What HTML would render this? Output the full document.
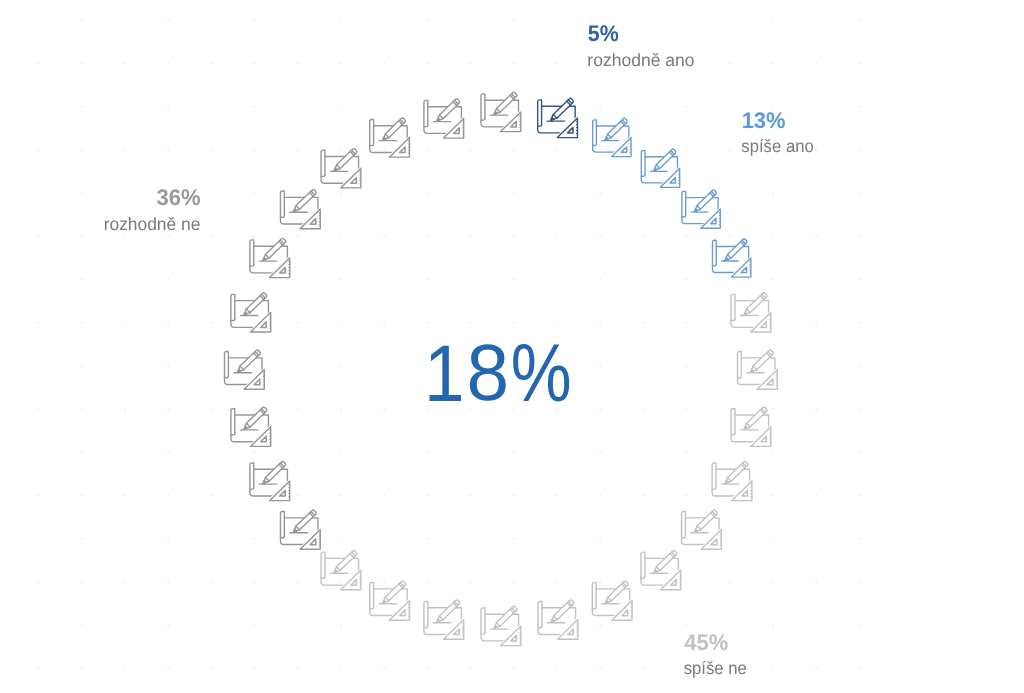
<!DOCTYPE html>
<html><head><meta charset="utf-8"><style>
html,body{margin:0;padding:0;background:#fff;width:1024px;height:693px;overflow:hidden}
svg{position:absolute;left:0;top:0;display:block;will-change:transform}
.c1{color:#34557f} .c2{color:#6a9dcf} .c3{color:#c2c2c2} .c4{color:#969696}
text{font-family:"Liberation Sans",sans-serif;text-rendering:geometricPrecision}
</style></head><body>
<svg width="1024" height="693" viewBox="0 0 1024 693">
<defs><symbol id="ic" overflow="visible">
<g fill="none" stroke="currentColor" stroke-width="1.4" stroke-linejoin="round" stroke-linecap="round">
<path d="M4.4 26.1 V1.5 H2.5 Q0.5 1.5 0.5 3.5 V31.2 Q0.5 34.5 3.8 34.5 H26"/>
<path d="M4.4 26.1 Q4.4 27.7 2.8 27.7 H0.5"/>
<path d="M4.4 7.8 H38 V24"/>
<path d="M10 22.7 H27.3"/>
<g transform="translate(13.5 22.1) rotate(-44.06)">
<path d="M0 0 L6 -2.6 H28.2 Q30.1 -2.6 30.1 -0.8 V0.8 Q30.1 2.6 28.2 2.6 H6 Z" fill="#fff"/>
<path d="M6 -2.6 V2.6 M25 -2.6 V2.6 M27 -2.6 V2.6"/>
<path d="M0 0 L3 -1.2 V1.2 Z" fill="currentColor"/>
</g>
<path d="M20.1 39.2 H40.3 V19.5 Z" stroke="#fff" stroke-width="3.2" fill="#fff"/>
<path d="M20.1 39.2 H40.3 V19.5 Z"/>
<path d="M30.3 34.6 H35.8 V29 Z" stroke-width="1.5"/>
<path d="M38.8 23.2 H40.3 M38.8 26.2 H40.3 M38.8 29.1 H40.3 M38.8 32.1 H40.3 M38.8 35.2 H40.3" stroke-width="1" stroke-linecap="butt"/>
</g>
</symbol></defs>
<g fill="#e6e6e6"><rect x="81.05" y="19.65" width="1.5" height="1.5"/><rect x="167.45" y="19.65" width="1.5" height="1.5"/><rect x="253.85" y="19.65" width="1.5" height="1.5"/><rect x="340.25" y="19.65" width="1.5" height="1.5"/><rect x="426.65" y="19.65" width="1.5" height="1.5"/><rect x="513.05" y="19.65" width="1.5" height="1.5"/><rect x="772.25" y="19.65" width="1.5" height="1.5"/><rect x="858.65" y="19.65" width="1.5" height="1.5"/><rect x="37.85" y="62.85" width="1.5" height="1.5"/><rect x="81.05" y="62.85" width="1.5" height="1.5"/><rect x="124.25" y="62.85" width="1.5" height="1.5"/><rect x="167.45" y="62.85" width="1.5" height="1.5"/><rect x="210.65" y="62.85" width="1.5" height="1.5"/><rect x="253.85" y="62.85" width="1.5" height="1.5"/><rect x="297.05" y="62.85" width="1.5" height="1.5"/><rect x="340.25" y="62.85" width="1.5" height="1.5"/><rect x="383.45" y="62.85" width="1.5" height="1.5"/><rect x="426.65" y="62.85" width="1.5" height="1.5"/><rect x="469.85" y="62.85" width="1.5" height="1.5"/><rect x="513.05" y="62.85" width="1.5" height="1.5"/><rect x="556.25" y="62.85" width="1.5" height="1.5"/><rect x="729.05" y="62.85" width="1.5" height="1.5"/><rect x="772.25" y="62.85" width="1.5" height="1.5"/><rect x="815.45" y="62.85" width="1.5" height="1.5"/><rect x="858.65" y="62.85" width="1.5" height="1.5"/><rect x="81.05" y="106.05" width="1.5" height="1.5"/><rect x="167.45" y="106.05" width="1.5" height="1.5"/><rect x="253.85" y="106.05" width="1.5" height="1.5"/><rect x="340.25" y="106.05" width="1.5" height="1.5"/><rect x="426.65" y="106.05" width="1.5" height="1.5"/><rect x="513.05" y="106.05" width="1.5" height="1.5"/><rect x="599.45" y="106.05" width="1.5" height="1.5"/><rect x="685.85" y="106.05" width="1.5" height="1.5"/><rect x="772.25" y="106.05" width="1.5" height="1.5"/><rect x="858.65" y="106.05" width="1.5" height="1.5"/><rect x="37.85" y="149.25" width="1.5" height="1.5"/><rect x="81.05" y="149.25" width="1.5" height="1.5"/><rect x="124.25" y="149.25" width="1.5" height="1.5"/><rect x="167.45" y="149.25" width="1.5" height="1.5"/><rect x="210.65" y="149.25" width="1.5" height="1.5"/><rect x="253.85" y="149.25" width="1.5" height="1.5"/><rect x="297.05" y="149.25" width="1.5" height="1.5"/><rect x="340.25" y="149.25" width="1.5" height="1.5"/><rect x="383.45" y="149.25" width="1.5" height="1.5"/><rect x="426.65" y="149.25" width="1.5" height="1.5"/><rect x="469.85" y="149.25" width="1.5" height="1.5"/><rect x="513.05" y="149.25" width="1.5" height="1.5"/><rect x="556.25" y="149.25" width="1.5" height="1.5"/><rect x="599.45" y="149.25" width="1.5" height="1.5"/><rect x="642.65" y="149.25" width="1.5" height="1.5"/><rect x="685.85" y="149.25" width="1.5" height="1.5"/><rect x="729.05" y="149.25" width="1.5" height="1.5"/><rect x="815.45" y="149.25" width="1.5" height="1.5"/><rect x="858.65" y="149.25" width="1.5" height="1.5"/><rect x="81.05" y="192.45" width="1.5" height="1.5"/><rect x="253.85" y="192.45" width="1.5" height="1.5"/><rect x="340.25" y="192.45" width="1.5" height="1.5"/><rect x="426.65" y="192.45" width="1.5" height="1.5"/><rect x="513.05" y="192.45" width="1.5" height="1.5"/><rect x="599.45" y="192.45" width="1.5" height="1.5"/><rect x="685.85" y="192.45" width="1.5" height="1.5"/><rect x="772.25" y="192.45" width="1.5" height="1.5"/><rect x="858.65" y="192.45" width="1.5" height="1.5"/><rect x="37.85" y="235.65" width="1.5" height="1.5"/><rect x="81.05" y="235.65" width="1.5" height="1.5"/><rect x="124.25" y="235.65" width="1.5" height="1.5"/><rect x="167.45" y="235.65" width="1.5" height="1.5"/><rect x="210.65" y="235.65" width="1.5" height="1.5"/><rect x="253.85" y="235.65" width="1.5" height="1.5"/><rect x="297.05" y="235.65" width="1.5" height="1.5"/><rect x="340.25" y="235.65" width="1.5" height="1.5"/><rect x="383.45" y="235.65" width="1.5" height="1.5"/><rect x="426.65" y="235.65" width="1.5" height="1.5"/><rect x="469.85" y="235.65" width="1.5" height="1.5"/><rect x="513.05" y="235.65" width="1.5" height="1.5"/><rect x="556.25" y="235.65" width="1.5" height="1.5"/><rect x="599.45" y="235.65" width="1.5" height="1.5"/><rect x="642.65" y="235.65" width="1.5" height="1.5"/><rect x="685.85" y="235.65" width="1.5" height="1.5"/><rect x="729.05" y="235.65" width="1.5" height="1.5"/><rect x="772.25" y="235.65" width="1.5" height="1.5"/><rect x="815.45" y="235.65" width="1.5" height="1.5"/><rect x="858.65" y="235.65" width="1.5" height="1.5"/><rect x="81.05" y="278.85" width="1.5" height="1.5"/><rect x="167.45" y="278.85" width="1.5" height="1.5"/><rect x="253.85" y="278.85" width="1.5" height="1.5"/><rect x="340.25" y="278.85" width="1.5" height="1.5"/><rect x="426.65" y="278.85" width="1.5" height="1.5"/><rect x="513.05" y="278.85" width="1.5" height="1.5"/><rect x="599.45" y="278.85" width="1.5" height="1.5"/><rect x="685.85" y="278.85" width="1.5" height="1.5"/><rect x="772.25" y="278.85" width="1.5" height="1.5"/><rect x="858.65" y="278.85" width="1.5" height="1.5"/><rect x="37.85" y="322.05" width="1.5" height="1.5"/><rect x="81.05" y="322.05" width="1.5" height="1.5"/><rect x="124.25" y="322.05" width="1.5" height="1.5"/><rect x="167.45" y="322.05" width="1.5" height="1.5"/><rect x="210.65" y="322.05" width="1.5" height="1.5"/><rect x="253.85" y="322.05" width="1.5" height="1.5"/><rect x="297.05" y="322.05" width="1.5" height="1.5"/><rect x="340.25" y="322.05" width="1.5" height="1.5"/><rect x="383.45" y="322.05" width="1.5" height="1.5"/><rect x="426.65" y="322.05" width="1.5" height="1.5"/><rect x="469.85" y="322.05" width="1.5" height="1.5"/><rect x="513.05" y="322.05" width="1.5" height="1.5"/><rect x="556.25" y="322.05" width="1.5" height="1.5"/><rect x="599.45" y="322.05" width="1.5" height="1.5"/><rect x="642.65" y="322.05" width="1.5" height="1.5"/><rect x="685.85" y="322.05" width="1.5" height="1.5"/><rect x="729.05" y="322.05" width="1.5" height="1.5"/><rect x="772.25" y="322.05" width="1.5" height="1.5"/><rect x="815.45" y="322.05" width="1.5" height="1.5"/><rect x="858.65" y="322.05" width="1.5" height="1.5"/><rect x="81.05" y="365.25" width="1.5" height="1.5"/><rect x="167.45" y="365.25" width="1.5" height="1.5"/><rect x="253.85" y="365.25" width="1.5" height="1.5"/><rect x="340.25" y="365.25" width="1.5" height="1.5"/><rect x="599.45" y="365.25" width="1.5" height="1.5"/><rect x="685.85" y="365.25" width="1.5" height="1.5"/><rect x="772.25" y="365.25" width="1.5" height="1.5"/><rect x="858.65" y="365.25" width="1.5" height="1.5"/><rect x="37.85" y="408.45" width="1.5" height="1.5"/><rect x="81.05" y="408.45" width="1.5" height="1.5"/><rect x="124.25" y="408.45" width="1.5" height="1.5"/><rect x="167.45" y="408.45" width="1.5" height="1.5"/><rect x="210.65" y="408.45" width="1.5" height="1.5"/><rect x="253.85" y="408.45" width="1.5" height="1.5"/><rect x="297.05" y="408.45" width="1.5" height="1.5"/><rect x="340.25" y="408.45" width="1.5" height="1.5"/><rect x="383.45" y="408.45" width="1.5" height="1.5"/><rect x="426.65" y="408.45" width="1.5" height="1.5"/><rect x="469.85" y="408.45" width="1.5" height="1.5"/><rect x="513.05" y="408.45" width="1.5" height="1.5"/><rect x="556.25" y="408.45" width="1.5" height="1.5"/><rect x="599.45" y="408.45" width="1.5" height="1.5"/><rect x="642.65" y="408.45" width="1.5" height="1.5"/><rect x="685.85" y="408.45" width="1.5" height="1.5"/><rect x="729.05" y="408.45" width="1.5" height="1.5"/><rect x="772.25" y="408.45" width="1.5" height="1.5"/><rect x="815.45" y="408.45" width="1.5" height="1.5"/><rect x="858.65" y="408.45" width="1.5" height="1.5"/><rect x="81.05" y="451.65" width="1.5" height="1.5"/><rect x="167.45" y="451.65" width="1.5" height="1.5"/><rect x="253.85" y="451.65" width="1.5" height="1.5"/><rect x="340.25" y="451.65" width="1.5" height="1.5"/><rect x="426.65" y="451.65" width="1.5" height="1.5"/><rect x="513.05" y="451.65" width="1.5" height="1.5"/><rect x="599.45" y="451.65" width="1.5" height="1.5"/><rect x="685.85" y="451.65" width="1.5" height="1.5"/><rect x="772.25" y="451.65" width="1.5" height="1.5"/><rect x="858.65" y="451.65" width="1.5" height="1.5"/><rect x="37.85" y="494.85" width="1.5" height="1.5"/><rect x="81.05" y="494.85" width="1.5" height="1.5"/><rect x="124.25" y="494.85" width="1.5" height="1.5"/><rect x="167.45" y="494.85" width="1.5" height="1.5"/><rect x="210.65" y="494.85" width="1.5" height="1.5"/><rect x="253.85" y="494.85" width="1.5" height="1.5"/><rect x="297.05" y="494.85" width="1.5" height="1.5"/><rect x="340.25" y="494.85" width="1.5" height="1.5"/><rect x="383.45" y="494.85" width="1.5" height="1.5"/><rect x="426.65" y="494.85" width="1.5" height="1.5"/><rect x="469.85" y="494.85" width="1.5" height="1.5"/><rect x="513.05" y="494.85" width="1.5" height="1.5"/><rect x="556.25" y="494.85" width="1.5" height="1.5"/><rect x="599.45" y="494.85" width="1.5" height="1.5"/><rect x="642.65" y="494.85" width="1.5" height="1.5"/><rect x="685.85" y="494.85" width="1.5" height="1.5"/><rect x="729.05" y="494.85" width="1.5" height="1.5"/><rect x="772.25" y="494.85" width="1.5" height="1.5"/><rect x="815.45" y="494.85" width="1.5" height="1.5"/><rect x="858.65" y="494.85" width="1.5" height="1.5"/><rect x="81.05" y="538.05" width="1.5" height="1.5"/><rect x="167.45" y="538.05" width="1.5" height="1.5"/><rect x="253.85" y="538.05" width="1.5" height="1.5"/><rect x="340.25" y="538.05" width="1.5" height="1.5"/><rect x="426.65" y="538.05" width="1.5" height="1.5"/><rect x="513.05" y="538.05" width="1.5" height="1.5"/><rect x="599.45" y="538.05" width="1.5" height="1.5"/><rect x="685.85" y="538.05" width="1.5" height="1.5"/><rect x="772.25" y="538.05" width="1.5" height="1.5"/><rect x="858.65" y="538.05" width="1.5" height="1.5"/><rect x="37.85" y="581.25" width="1.5" height="1.5"/><rect x="81.05" y="581.25" width="1.5" height="1.5"/><rect x="124.25" y="581.25" width="1.5" height="1.5"/><rect x="167.45" y="581.25" width="1.5" height="1.5"/><rect x="210.65" y="581.25" width="1.5" height="1.5"/><rect x="253.85" y="581.25" width="1.5" height="1.5"/><rect x="297.05" y="581.25" width="1.5" height="1.5"/><rect x="340.25" y="581.25" width="1.5" height="1.5"/><rect x="383.45" y="581.25" width="1.5" height="1.5"/><rect x="426.65" y="581.25" width="1.5" height="1.5"/><rect x="469.85" y="581.25" width="1.5" height="1.5"/><rect x="513.05" y="581.25" width="1.5" height="1.5"/><rect x="556.25" y="581.25" width="1.5" height="1.5"/><rect x="599.45" y="581.25" width="1.5" height="1.5"/><rect x="642.65" y="581.25" width="1.5" height="1.5"/><rect x="685.85" y="581.25" width="1.5" height="1.5"/><rect x="729.05" y="581.25" width="1.5" height="1.5"/><rect x="772.25" y="581.25" width="1.5" height="1.5"/><rect x="815.45" y="581.25" width="1.5" height="1.5"/><rect x="858.65" y="581.25" width="1.5" height="1.5"/><rect x="81.05" y="624.45" width="1.5" height="1.5"/><rect x="167.45" y="624.45" width="1.5" height="1.5"/><rect x="253.85" y="624.45" width="1.5" height="1.5"/><rect x="340.25" y="624.45" width="1.5" height="1.5"/><rect x="426.65" y="624.45" width="1.5" height="1.5"/><rect x="513.05" y="624.45" width="1.5" height="1.5"/><rect x="599.45" y="624.45" width="1.5" height="1.5"/><rect x="685.85" y="624.45" width="1.5" height="1.5"/><rect x="772.25" y="624.45" width="1.5" height="1.5"/><rect x="858.65" y="624.45" width="1.5" height="1.5"/><rect x="37.85" y="667.65" width="1.5" height="1.5"/><rect x="81.05" y="667.65" width="1.5" height="1.5"/><rect x="124.25" y="667.65" width="1.5" height="1.5"/><rect x="167.45" y="667.65" width="1.5" height="1.5"/><rect x="210.65" y="667.65" width="1.5" height="1.5"/><rect x="253.85" y="667.65" width="1.5" height="1.5"/><rect x="297.05" y="667.65" width="1.5" height="1.5"/><rect x="340.25" y="667.65" width="1.5" height="1.5"/><rect x="383.45" y="667.65" width="1.5" height="1.5"/><rect x="426.65" y="667.65" width="1.5" height="1.5"/><rect x="469.85" y="667.65" width="1.5" height="1.5"/><rect x="513.05" y="667.65" width="1.5" height="1.5"/><rect x="556.25" y="667.65" width="1.5" height="1.5"/><rect x="599.45" y="667.65" width="1.5" height="1.5"/><rect x="642.65" y="667.65" width="1.5" height="1.5"/><rect x="772.25" y="667.65" width="1.5" height="1.5"/><rect x="815.45" y="667.65" width="1.5" height="1.5"/><rect x="858.65" y="667.65" width="1.5" height="1.5"/></g>
<use href="#ic" class="c4" x="480.50" y="92.40"/><use href="#ic" class="c1" x="537.18" y="98.38"/><use href="#ic" class="c2" transform="translate(610.74 135.97) scale(0.965 0.977) translate(-19.25 -18)"/><use href="#ic" class="c2" transform="translate(659.38 166.72) scale(0.965 0.977) translate(-19.25 -18)"/><use href="#ic" class="c2" transform="translate(699.99 207.56) scale(0.965 0.977) translate(-19.25 -18)"/><use href="#ic" class="c2" transform="translate(730.55 256.42) scale(0.965 0.977) translate(-19.25 -18)"/><use href="#ic" class="c3" x="730.57" y="292.83"/><use href="#ic" class="c3" x="737.00" y="350.05"/><use href="#ic" class="c3" x="730.57" y="407.21"/><use href="#ic" class="c3" x="711.60" y="461.44"/><use href="#ic" class="c3" x="681.04" y="510.03"/><use href="#ic" class="c3" x="640.43" y="550.58"/><use href="#ic" class="c3" x="591.79" y="581.07"/><use href="#ic" class="c3" x="537.58" y="599.99"/><use href="#ic" class="c3" x="480.50" y="606.40"/><use href="#ic" class="c3" x="423.42" y="599.99"/><use href="#ic" class="c3" x="369.21" y="581.07"/><use href="#ic" class="c3" x="320.57" y="550.58"/><use href="#ic" class="c4" x="279.96" y="510.03"/><use href="#ic" class="c4" x="249.40" y="461.44"/><use href="#ic" class="c4" x="230.43" y="407.21"/><use href="#ic" class="c4" x="224.00" y="350.05"/><use href="#ic" class="c4" x="230.43" y="292.83"/><use href="#ic" class="c4" x="249.40" y="238.42"/><use href="#ic" class="c4" x="279.96" y="189.56"/><use href="#ic" class="c4" x="320.57" y="148.72"/><use href="#ic" class="c4" x="369.21" y="117.97"/><use href="#ic" class="c4" x="423.42" y="98.88"/>
<text transform="translate(424.02 400.60) scale(0.7302 0.8050)" font-size="100" font-weight="normal" fill="#2467b0">1</text>
<text transform="translate(466.55 400.40) scale(0.7660 0.8000)" font-size="100" font-weight="normal" fill="#2467b0">8</text>
<text transform="translate(510.81 400.90) scale(0.6841 0.8200)" font-size="100" font-weight="normal" fill="#2467b0">%</text>
<text transform="translate(587.86 40.77) scale(0.2137 0.2270)" font-size="100" font-weight="bold" fill="#2d62a6">5%</text>
<text transform="translate(741.67 127.77) scale(0.2194 0.2254)" font-size="100" font-weight="bold" fill="#5b9bd5">13%</text>
<text transform="translate(156.45 204.77) scale(0.2205 0.2254)" font-size="100" font-weight="bold" fill="#9a9a9a">36%</text>
<text transform="translate(684.17 649.77) scale(0.2199 0.2270)" font-size="100" font-weight="bold" fill="#c2c2c2">45%</text>
<text transform="translate(587.36 65.90) scale(0.1752 0.1780)" font-size="100" font-weight="normal" fill="#7a7a7a">rozhodně ano</text>
<text transform="translate(741.30 152.40) scale(0.1672 0.1780)" font-size="100" font-weight="normal" fill="#7a7a7a">spíše ano</text>
<text transform="translate(103.67 229.90) scale(0.1739 0.1780)" font-size="100" font-weight="normal" fill="#7a7a7a">rozhodně ne</text>
<text transform="translate(683.70 674.30) scale(0.1671 0.1780)" font-size="100" font-weight="normal" fill="#7a7a7a">spíše ne</text>
</svg>
</body></html>
